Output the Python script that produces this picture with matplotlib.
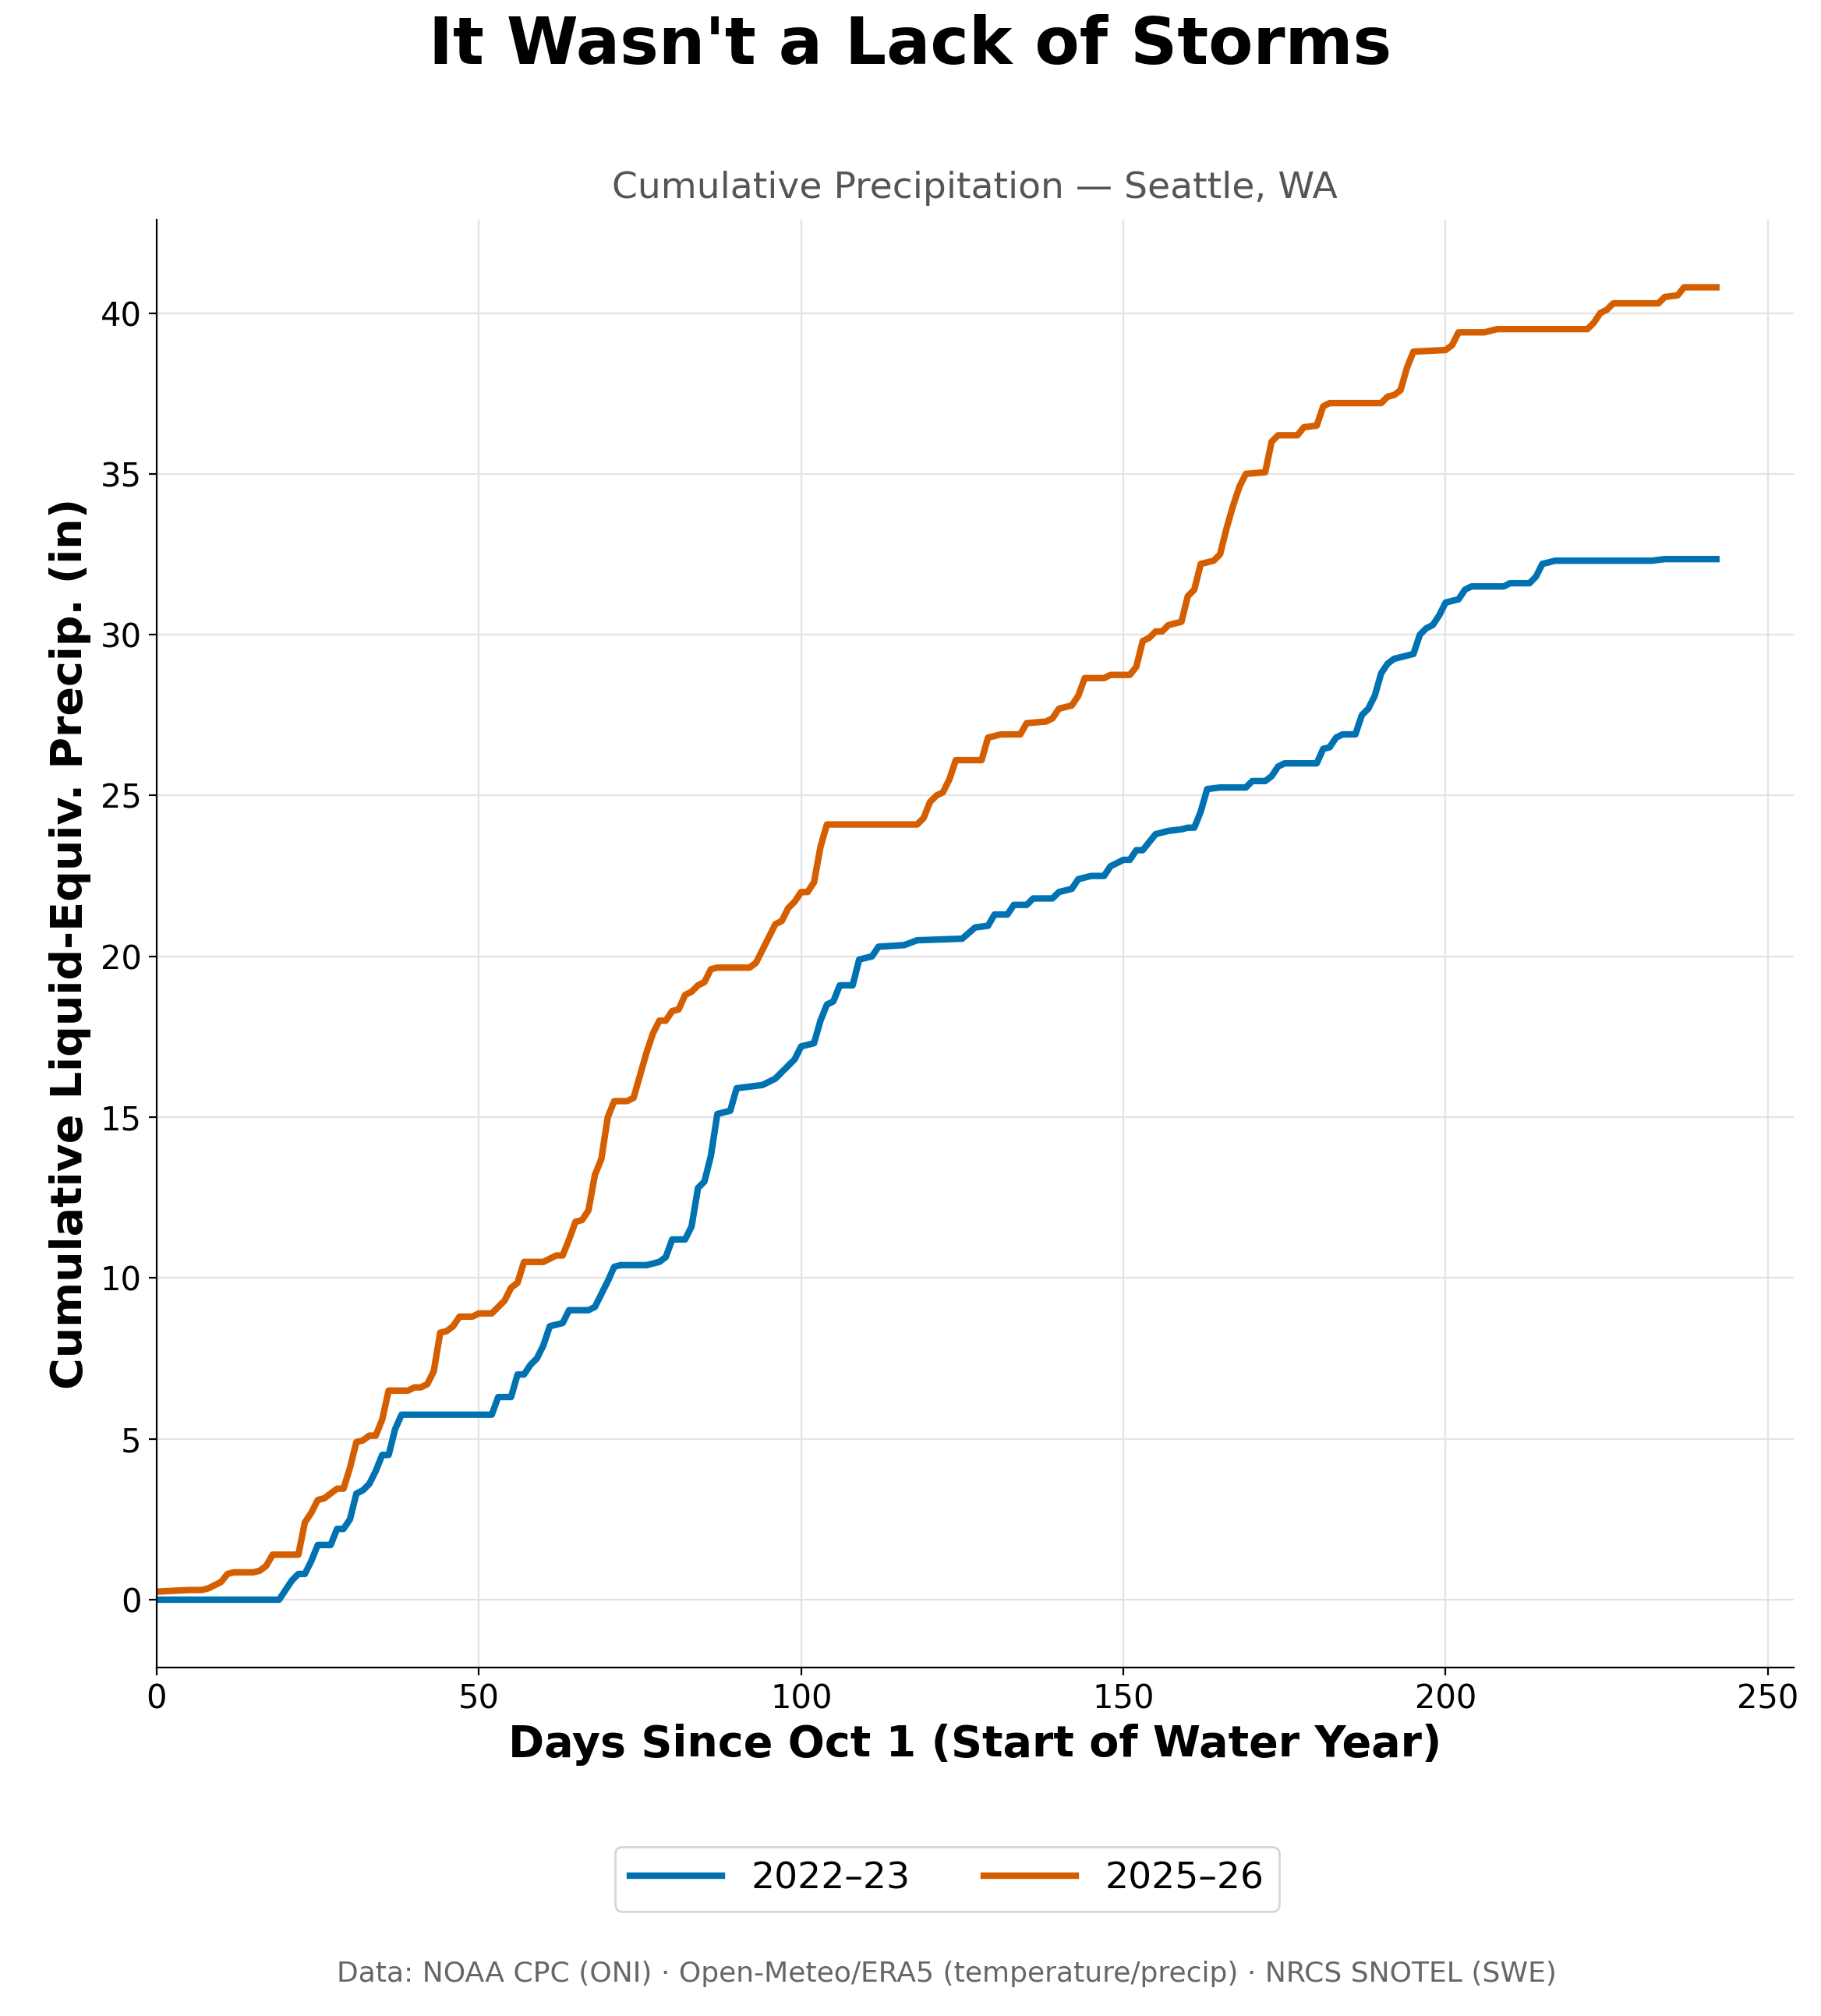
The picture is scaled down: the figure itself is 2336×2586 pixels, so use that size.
import matplotlib
matplotlib.use("Agg")
import matplotlib.pyplot as plt

# cumulative precipitation (in), as (day, value)
DAYS_2223 = [0, 19, 21, 22, 23, 24, 25, 27, 28, 29, 30, 31, 32, 33, 34, 35, 36, 37, 38, 52, 53, 55, 56, 57, 58, 59, 60, 61, 63, 64, 67, 68, 69, 70, 71, 72, 76, 78, 79, 80, 82, 83, 84, 85, 86, 87, 89, 90, 94, 96, 97, 99, 100, 102, 103, 104, 105, 106, 108, 109, 111, 112, 116, 118, 125, 127, 129, 130, 132, 133, 135, 136, 139, 140, 142, 143, 145, 147, 148, 150, 151, 152, 153, 155, 157, 159, 160, 161, 162, 163, 165, 169, 170, 172, 173, 174, 175, 180, 181, 182, 183, 184, 186, 187, 188, 189, 190, 191, 192, 195, 196, 197, 198, 199, 200, 202, 203, 204, 209, 210, 213, 214, 215, 217, 232, 234, 242]
PRECIP_2223 = [0, 0, 0.6, 0.8, 0.8, 1.2, 1.7, 1.7, 2.2, 2.2, 2.5, 3.3, 3.4, 3.6, 4.0, 4.5, 4.5, 5.3, 5.75, 5.75, 6.3, 6.3, 7.0, 7.0, 7.3, 7.5, 7.9, 8.5, 8.6, 9.0, 9.0, 9.1, 9.5, 9.9, 10.35, 10.4, 10.4, 10.5, 10.65, 11.2, 11.2, 11.6, 12.8, 13.0, 13.8, 15.1, 15.2, 15.9, 16.0, 16.2, 16.4, 16.8, 17.2, 17.3, 18.0, 18.5, 18.6, 19.1, 19.1, 19.9, 20.0, 20.3, 20.35, 20.5, 20.55, 20.9, 20.95, 21.3, 21.3, 21.6, 21.6, 21.8, 21.8, 22.0, 22.1, 22.4, 22.5, 22.5, 22.8, 23.0, 23.0, 23.3, 23.3, 23.8, 23.9, 23.95, 24.0, 24.0, 24.5, 25.2, 25.25, 25.25, 25.45, 25.45, 25.6, 25.9, 26.0, 26.0, 26.45, 26.5, 26.8, 26.9, 26.9, 27.5, 27.7, 28.1, 28.8, 29.1, 29.25, 29.4, 30.0, 30.2, 30.3, 30.6, 31.0, 31.1, 31.4, 31.5, 31.5, 31.6, 31.6, 31.8, 32.2, 32.3, 32.3, 32.35, 32.35]

DAYS_2526 = [0, 5, 7, 8, 9, 10, 11, 12, 15, 16, 17, 18, 22, 23, 24, 25, 26, 27, 28, 29, 30, 31, 32, 33, 34, 35, 36, 38, 39, 40, 41, 42, 43, 44, 45, 46, 47, 49, 50, 52, 53, 54, 55, 56, 57, 60, 61, 62, 63, 64, 65, 66, 67, 68, 69, 70, 71, 73, 74, 75, 76, 77, 78, 79, 80, 81, 82, 83, 84, 85, 86, 87, 92, 93, 94, 95, 96, 97, 98, 99, 100, 101, 102, 103, 104, 118, 119, 120, 121, 122, 123, 124, 128, 129, 130, 131, 134, 135, 138, 139, 140, 142, 143, 144, 147, 148, 151, 152, 153, 154, 155, 156, 157, 159, 160, 161, 162, 164, 165, 166, 167, 168, 169, 172, 173, 174, 177, 178, 180, 181, 182, 190, 191, 192, 193, 194, 195, 200, 201, 202, 206, 208, 222, 223, 224, 225, 226, 233, 234, 236, 237, 242]
PRECIP_2526 = [0.25, 0.3, 0.3, 0.35, 0.45, 0.55, 0.8, 0.85, 0.85, 0.9, 1.05, 1.4, 1.4, 2.4, 2.7, 3.1, 3.15, 3.3, 3.45, 3.45, 4.1, 4.9, 4.95, 5.1, 5.1, 5.6, 6.5, 6.5, 6.5, 6.6, 6.6, 6.7, 7.1, 8.3, 8.35, 8.5, 8.8, 8.8, 8.9, 8.9, 9.1, 9.3, 9.7, 9.85, 10.5, 10.5, 10.6, 10.7, 10.7, 11.2, 11.75, 11.8, 12.1, 13.2, 13.7, 15.0, 15.5, 15.5, 15.6, 16.3, 17.0, 17.6, 18.0, 18.0, 18.3, 18.35, 18.8, 18.9, 19.1, 19.2, 19.6, 19.65, 19.65, 19.8, 20.2, 20.6, 21.0, 21.1, 21.5, 21.7, 22.0, 22.0, 22.3, 23.4, 24.1, 24.1, 24.3, 24.8, 25.0, 25.1, 25.5, 26.1, 26.1, 26.8, 26.85, 26.9, 26.9, 27.25, 27.3, 27.4, 27.7, 27.8, 28.1, 28.65, 28.65, 28.75, 28.75, 29.0, 29.8, 29.9, 30.1, 30.1, 30.3, 30.4, 31.2, 31.4, 32.2, 32.3, 32.5, 33.3, 34.0, 34.6, 35.0, 35.05, 36.0, 36.2, 36.2, 36.45, 36.5, 37.1, 37.2, 37.2, 37.4, 37.45, 37.6, 38.3, 38.8, 38.85, 39.0, 39.4, 39.4, 39.5, 39.5, 39.7, 40.0, 40.1, 40.3, 40.3, 40.5, 40.55, 40.8, 40.8]

fig = plt.figure(figsize=(11.68, 12.93), dpi=200)
ax = fig.add_axes([0.086, 0.173, 0.899, 0.718])

ax.plot(DAYS_2223, PRECIP_2223, color="#0072b2", lw=3, label="2022\u201323")
ax.plot(DAYS_2526, PRECIP_2526, color="#d55e00", lw=3, label="2025\u201326")

ax.set_xlim(0, 254)
ax.set_ylim(-2.1, 42.9)
ax.grid(True, color="#e3e3e3", lw=0.8)
ax.spines["top"].set_visible(False)
ax.spines["right"].set_visible(False)
ax.tick_params(labelsize=15)
ax.set_xlabel("Days Since Oct 1 (Start of Water Year)", fontsize=20, fontweight="bold")
ax.set_ylabel("Cumulative Liquid-Equiv. Precip. (in)", fontsize=20, fontweight="bold")
ax.set_title("Cumulative Precipitation \u2014 Seattle, WA", fontsize=17, color="#555555", pad=10)

fig.suptitle("It Wasn't a Lack of Storms", fontsize=30, fontweight="bold", y=0.993)
fig.legend(loc="center", bbox_to_anchor=(0.52, 0.068), ncol=2, fontsize=17, handlelength=2.5)
fig.text(0.52, 0.017, "Data: NOAA CPC (ONI) \u00b7 Open-Meteo/ERA5 (temperature/precip) \u00b7 NRCS SNOTEL (SWE)",
         ha="center", fontsize=13, color="#666666")

fig.savefig("out.png", dpi=200)
